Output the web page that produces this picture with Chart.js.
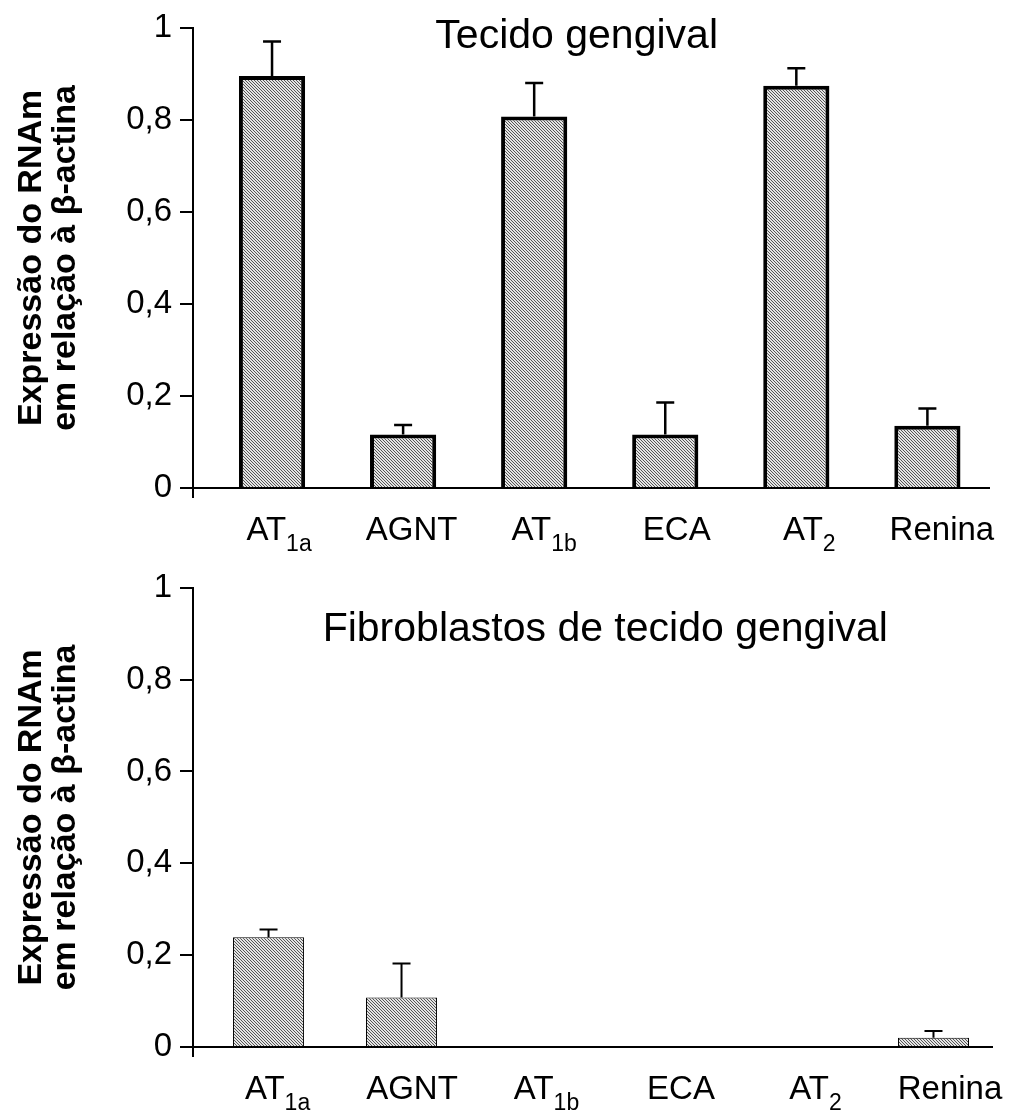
<!DOCTYPE html>
<html>
<head>
<meta charset="utf-8">
<script src="https://cdn.jsdelivr.net/npm/chart.js@4.4.0/dist/chart.umd.min.js"></script>
<style>
  html, body { margin: 0; padding: 0; background: #fff; }
  #wrap { width: 1011px; height: 1119px; position: relative; }
  .box { position: absolute; left: 0; width: 1011px; }
  #top { top: 0; height: 560px; }
  #bottom { top: 560px; height: 559px; }
</style>
</head>
<body>
<div id="wrap">
  <div class="box" id="top"><canvas id="c1"></canvas></div>
  <div class="box" id="bottom"><canvas id="c2"></canvas></div>
</div>
<script>
// categories (main text + subscript)
const categories = ['AT1a', 'AGNT', 'AT1b', 'ECA', 'AT2', 'Renina'];
const labelMain = ['AT', 'AGNT', 'AT', 'ECA', 'AT', 'Renina'];
const labelSub = ['1a', '', '1b', '', '2', ''];

// Tecido gengival
const tissueValues = [0.895, 0.116, 0.807, 0.116, 0.874, 0.135];
const tissueErrors = [0.075, 0.021, 0.073, 0.070, 0.038, 0.038];

// Fibroblastos de tecido gengival
const fibroValues = [0.239, 0.108, 0, 0, 0, 0.020];
const fibroErrors = [0.017, 0.074, 0, 0, 0, 0.015];

const yTickLabels = ['0', '0,2', '0,4', '0,6', '0,8', '1'];
const yTitle = ['Expressão do RNAm', 'em relação à β-actina'];
const titles = ['Tecido gengival', 'Fibroblastos de tecido gengival'];

const FONT = '"Liberation Sans", Arial, sans-serif';
Chart.defaults.font.family = FONT;
Chart.defaults.color = '#000';

function hatch(ctx) {
  const c = document.createElement('canvas');
  c.width = 6; c.height = 6;
  const g = c.getContext('2d');
  g.fillStyle = '#e4e4e4';
  g.fillRect(0, 0, 6, 6);
  g.fillStyle = '#555';
  for (let y = 0; y < 6; y++)
    for (let x = 0; x < 6; x++)
      if ((x - y + 6) % 3 === 0) g.fillRect(x, y, 1, 1);
  return ctx.createPattern(c, 'repeat');
}

function buildChart(id, values, errors, cfg) {
  const ctx = document.getElementById(id).getContext('2d');

  const extras = {
    id: 'extras',
    afterDatasetsDraw(chart) {
      const g = chart.ctx, ys = chart.scales.y, meta = chart.getDatasetMeta(0);
      g.save();
      g.strokeStyle = '#000';
      g.lineWidth = cfg.errWidth;
      values.forEach((v, i) => {
        if (!errors[i]) return;
        const x = meta.data[i].x;
        const y0 = ys.getPixelForValue(v);
        const y1 = ys.getPixelForValue(v + errors[i]);
        g.beginPath();
        g.moveTo(x, y0); g.lineTo(x, y1);
        g.moveTo(x - 9, y1); g.lineTo(x + 9, y1);
        g.stroke();
      });
      g.restore();
    },
    afterDraw(chart) {
      const g = chart.ctx, a = chart.chartArea, xs = chart.scales.x;
      g.save();
      // small stub of the value axis below the category axis
      g.strokeStyle = '#000';
      g.lineWidth = 2;
      g.beginPath();
      g.moveTo(a.left, a.bottom);
      g.lineTo(a.left, a.bottom + 10);
      g.stroke();

      g.fillStyle = '#000';
      g.textAlign = 'left';
      g.textBaseline = 'alphabetic';
      labelMain.forEach((m, i) => {
        const s = labelSub[i];
        g.font = '33px ' + FONT;
        const wm = g.measureText(m).width;
        g.font = '23px ' + FONT;
        const ws = s ? g.measureText(s).width : 0;
        const x0 = xs.getPixelForValue(i) + cfg.labelShift + i * 1.5 - (wm + ws) / 2;
        const base = a.bottom + 52;
        g.font = '33px ' + FONT;
        g.fillText(m, x0, base);
        if (s) {
          g.font = '23px ' + FONT;
          g.fillText(s, x0 + wm, base + 11);
        }
      });

      g.font = '41px ' + FONT;
      g.textAlign = 'center';
      g.fillText(cfg.title, a.left + a.width * cfg.titleX, a.top + cfg.titleY);
      g.restore();
    }
  };

  return new Chart(ctx, {
    type: 'bar',
    data: {
      labels: categories,
      datasets: [{
        data: values.map((v, i) => ({ x: i, y: v })),
        backgroundColor: hatch(ctx),
        borderColor: '#000',
        borderWidth: cfg.border,
        barPercentage: cfg.barPct,
        categoryPercentage: 1
      }]
    },
    options: {
      responsive: true,
      maintainAspectRatio: false,
      animation: false,
      layout: { padding: { top: cfg.padTop, right: cfg.padRight, left: 0, bottom: 0 } },
      plugins: { legend: { display: false }, tooltip: { enabled: false } },
      scales: {
        x: {
          type: 'linear',
          min: cfg.xMin,
          max: cfg.xMax,
          bounds: 'data',
          offset: false,
          afterBuildTicks(s) { s.ticks = categories.map((c, i) => ({ value: i })); },
          afterFit(s) { s.height = 72; },
          ticks: { display: false },
          grid: { display: false },
          border: { display: true, color: '#000', width: 2, z: 1 }
        },
        y: {
          min: 0,
          max: 1,
          afterFit(s) { s.width = 193; },
          ticks: {
            stepSize: 0.2,
            padding: 8,
            color: '#000',
            font: { size: 33 },
            callback: (v, i) => yTickLabels[i]
          },
          grid: { drawOnChartArea: false, drawTicks: true, tickLength: 13, color: '#000', lineWidth: 2 },
          border: { display: true, color: '#000', width: 2, z: 1 },
          title: {
            display: true,
            text: yTitle,
            color: '#000',
            font: { size: 34, weight: 'bold', lineHeight: 1.0 },
            padding: { top: 15, bottom: 0 }
          }
        }
      }
    },
    plugins: [extras]
  });
}

buildChart('c1', tissueValues, tissueErrors, {
  title: titles[0], titleX: 0.482, titleY: 20,
  padTop: 21, padRight: 22, xMin: -0.603, xMax: 5.47,
  barPct: 0.505, border: 4, errWidth: 2.5, labelShift: 7
});

buildChart('c2', fibroValues, fibroErrors, {
  title: titles[1], titleX: 0.516, titleY: 53,
  padTop: 27, padRight: 19, xMin: -0.568, xMax: 5.44,
  barPct: 0.534, border: 1, errWidth: 2, labelShift: 9
});
</script>
</body>
</html>
